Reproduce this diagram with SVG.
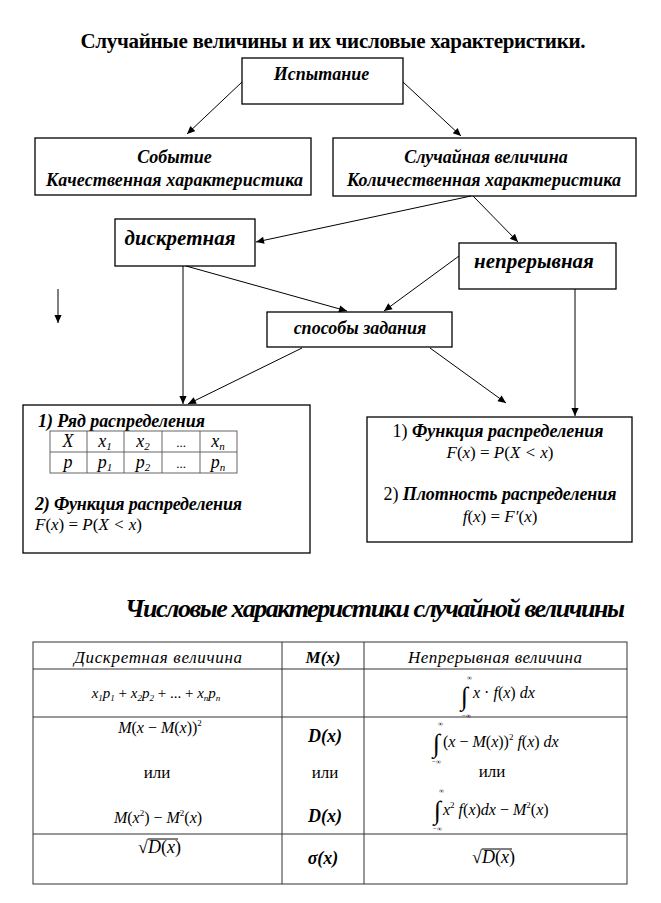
<svg xmlns="http://www.w3.org/2000/svg" width="661" height="903" viewBox="0 0 661 903">
<defs>
<marker id="ah" viewBox="0 0 10 10" refX="10" refY="5" markerWidth="9" markerHeight="8" markerUnits="userSpaceOnUse" orient="auto"><path d="M0,0.5 L10,5 L0,9.5 z" fill="#000"/></marker>
</defs>
<rect width="661" height="903" fill="#fff"/>

<g id="title"><text style="font-family:'Liberation Serif',serif" font-weight="bold" x="333" y="48" font-size="21" text-anchor="middle" textLength="505">Случайные величины и их числовые характеристики.</text></g>

<g id="n-trial" fill="#fff" stroke="#000" stroke-width="1.3"><rect x="242" y="58" width="161" height="46"/><text style="font-family:'Liberation Serif',serif" fill="#000" stroke="none" font-weight="bold" font-style="italic" x="321.5" y="80" font-size="18" text-anchor="middle">Испытание</text></g>

<g id="n-event" fill="#fff" stroke="#000" stroke-width="1.3"><rect x="35" y="138" width="276" height="57"/>
<g fill="#000" stroke="none" font-weight="bold" font-style="italic" font-size="18" text-anchor="middle">
<text style="font-family:'Liberation Serif',serif" x="174.5" y="163">Событие</text>
<text style="font-family:'Liberation Serif',serif" x="174.5" y="186" textLength="257">Качественная характеристика</text></g></g>

<g id="n-rv" fill="#fff" stroke="#000" stroke-width="1.3"><rect x="333" y="138" width="303" height="58"/>
<g fill="#000" stroke="none" font-weight="bold" font-style="italic" font-size="18" text-anchor="middle">
<text style="font-family:'Liberation Serif',serif" x="486" y="163">Случайная величина</text>
<text style="font-family:'Liberation Serif',serif" x="484" y="186" textLength="274">Количественная характеристика</text></g></g>

<g id="n-discrete" fill="#fff" stroke="#000" stroke-width="1.3"><rect x="115" y="219" width="140" height="47"/><text style="font-family:'Liberation Serif',serif" fill="#000" stroke="none" font-weight="bold" font-style="italic" x="180" y="245" font-size="21" text-anchor="middle">дискретная</text></g>

<g id="n-continuous" fill="#fff" stroke="#000" stroke-width="1.3"><rect x="459" y="243" width="157" height="46"/><text style="font-family:'Liberation Serif',serif" fill="#000" stroke="none" font-weight="bold" font-style="italic" x="534" y="268" font-size="21" text-anchor="middle">непрерывная</text></g>

<g id="n-methods" fill="#fff" stroke="#000" stroke-width="1.3"><rect x="267" y="312" width="185" height="35"/><text style="font-family:'Liberation Serif',serif" fill="#000" stroke="none" font-weight="bold" font-style="italic" x="360" y="334" font-size="18" text-anchor="middle">способы задания</text></g>

<g id="n-left">
<rect x="23" y="405" width="287" height="148" fill="#fff" stroke="#000" stroke-width="1.3"/>
<text style="font-family:'Liberation Serif',serif" font-weight="bold" font-style="italic" x="38" y="427" font-size="18" textLength="167">1) Ряд распределения</text>
<g fill="none" stroke="#555" stroke-width="0.9">
<rect x="50" y="431" width="187" height="42"/>
<path d="M50,452H237M87,431V473M124,431V473M162,431V473M200,431V473"/>
</g>
<g font-style="italic" font-size="18" text-anchor="middle">
<text style="font-family:'Liberation Serif',serif" x="68" y="447">X</text>
<text style="font-family:'Liberation Serif',serif" x="105" y="447">x<tspan font-size="11" dy="3">1</tspan></text>
<text style="font-family:'Liberation Serif',serif" x="143" y="447">x<tspan font-size="11" dy="3">2</tspan></text>
<text style="font-family:'Liberation Serif',serif" x="181" y="447" font-style="normal" font-size="13">...</text>
<text style="font-family:'Liberation Serif',serif" x="218" y="447">x<tspan font-size="11" dy="3">n</tspan></text>
<text style="font-family:'Liberation Serif',serif" x="68" y="468">p</text>
<text style="font-family:'Liberation Serif',serif" x="105" y="468">p<tspan font-size="11" dy="3">1</tspan></text>
<text style="font-family:'Liberation Serif',serif" x="143" y="468">p<tspan font-size="11" dy="3">2</tspan></text>
<text style="font-family:'Liberation Serif',serif" x="181" y="468" font-style="normal" font-size="13">...</text>
<text style="font-family:'Liberation Serif',serif" x="218" y="468">p<tspan font-size="11" dy="3">n</tspan></text>
</g>
<text style="font-family:'Liberation Serif',serif" font-weight="bold" font-style="italic" x="35" y="510" font-size="18" textLength="207">2) Функция распределения</text>
<text style="font-family:'Liberation Serif',serif" font-style="italic" x="35" y="530" font-size="17">F<tspan font-style="normal">(</tspan>x<tspan font-style="normal">) = </tspan>P<tspan font-style="normal">(</tspan>X &lt; x<tspan font-style="normal">)</tspan></text>
</g>

<g id="n-right">
<rect x="367" y="417" width="265" height="125" fill="#fff" stroke="#000" stroke-width="1.3"/>
<text style="font-family:'Liberation Serif',serif" font-weight="bold" font-style="italic" x="498" y="437" font-size="18" text-anchor="middle" textLength="211"><tspan font-weight="normal" font-style="normal">1) </tspan>Функция распределения</text>
<text style="font-family:'Liberation Serif',serif" font-style="italic" x="500" y="458" font-size="17" text-anchor="middle">F<tspan font-style="normal">(</tspan>x<tspan font-style="normal">) = </tspan>P<tspan font-style="normal">(</tspan>X &lt; x<tspan font-style="normal">)</tspan></text>
<text style="font-family:'Liberation Serif',serif" font-weight="bold" font-style="italic" x="500" y="500" font-size="18" text-anchor="middle" textLength="233"><tspan font-weight="normal" font-style="normal">2) </tspan>Плотность распределения</text>
<text style="font-family:'Liberation Serif',serif" font-style="italic" x="500" y="522" font-size="17" text-anchor="middle">f<tspan font-style="normal">(</tspan>x<tspan font-style="normal">) = </tspan>F′<tspan font-style="normal">(</tspan>x<tspan font-style="normal">)</tspan></text>
</g>

<g id="connectors" fill="none" stroke="#000" stroke-width="1" marker-end="url(#ah)">
<path d="M242,82L187,134"/>
<path d="M403,82L461,136"/>
<path d="M471,196L256,242"/>
<path d="M473,196L518,242"/>
<path d="M186,266L347,311"/>
<path d="M459,256L384,311"/>
<path d="M183,266V404"/>
<path d="M302,348L188,404"/>
<path d="M430,348L506,403"/>
<path d="M575,289V416"/>
<path d="M58,289V323"/>
</g>

<g id="heading2"><text style="font-family:'Liberation Serif',serif" font-weight="bold" font-style="italic" x="375" y="617" font-size="26" text-anchor="middle" textLength="500">Числовые характеристики случайной величины</text></g>

<g id="table">
<g fill="none" stroke="#333" stroke-width="1">
<rect x="33" y="642" width="594" height="242"/>
<path d="M33,669H627M33,717H627M33,834H627M282,642V884M364,642V884"/>
</g>
<text style="font-family:'Liberation Serif',serif" font-style="italic" x="158" y="663" font-size="17" text-anchor="middle" textLength="168">Дискретная величина</text>
<text style="font-family:'Liberation Serif',serif" font-weight="bold" font-style="italic" x="323" y="663" font-size="17" text-anchor="middle">M(x)</text>
<text style="font-family:'Liberation Serif',serif" font-style="italic" x="495" y="663" font-size="17" text-anchor="middle" textLength="174">Непрерывная величина</text>

<text style="font-family:'Liberation Serif',serif" font-style="italic" x="156" y="698" font-size="15" text-anchor="middle">x<tspan font-size="9" dy="3">1</tspan><tspan dy="-3">p</tspan><tspan font-size="9" dy="3">1</tspan><tspan font-style="normal" dy="-3"> + </tspan>x<tspan font-size="9" dy="3">2</tspan><tspan dy="-3">p</tspan><tspan font-size="9" dy="3">2</tspan><tspan font-style="normal" dy="-3"> + ... + </tspan>x<tspan font-size="9" dy="3">n</tspan><tspan dy="-3">p</tspan><tspan font-size="9" dy="3">n</tspan></text>
<text style="font-family:'Liberation Serif',serif" x="461" y="705" font-size="26">∫</text>
<text style="font-family:'Liberation Serif',serif" x="467" y="680" font-size="7">∞</text>
<text style="font-family:'Liberation Serif',serif" x="462" y="718" font-size="7">−∞</text>
<text style="font-family:'Liberation Serif',serif" font-style="italic" x="473" y="698" font-size="16">x<tspan font-style="normal"> · </tspan>f<tspan font-style="normal">(</tspan>x<tspan font-style="normal">) </tspan>dx</text>

<text style="font-family:'Liberation Serif',serif" font-style="italic" x="160" y="733" font-size="16" text-anchor="middle">M<tspan font-style="normal">(</tspan>x<tspan font-style="normal"> − </tspan>M<tspan font-style="normal">(</tspan>x<tspan font-style="normal">))</tspan><tspan font-style="normal" font-size="9" dy="-7">2</tspan></text>
<text style="font-family:'Liberation Serif',serif" x="157" y="778" font-size="17" text-anchor="middle">или</text>
<text style="font-family:'Liberation Serif',serif" font-style="italic" x="158" y="823" font-size="16" text-anchor="middle">M<tspan font-style="normal">(</tspan>x<tspan font-style="normal" font-size="9" dy="-7">2</tspan><tspan font-style="normal" dy="7">) − </tspan>M<tspan font-style="normal" font-size="9" dy="-7">2</tspan><tspan font-style="normal" dy="7">(</tspan>x<tspan font-style="normal">)</tspan></text>

<text style="font-family:'Liberation Serif',serif" font-weight="bold" font-style="italic" x="325" y="742" font-size="18" text-anchor="middle">D(x)</text>
<text style="font-family:'Liberation Serif',serif" x="325" y="778" font-size="17" text-anchor="middle">или</text>
<text style="font-family:'Liberation Serif',serif" font-weight="bold" font-style="italic" x="325" y="822" font-size="18" text-anchor="middle">D(x)</text>

<text style="font-family:'Liberation Serif',serif" x="433" y="752" font-size="26">∫</text>
<text style="font-family:'Liberation Serif',serif" x="438" y="726" font-size="7">∞</text>
<text style="font-family:'Liberation Serif',serif" x="432" y="764" font-size="7">−∞</text>
<text style="font-family:'Liberation Serif',serif" font-style="italic" x="443" y="747" font-size="16"><tspan font-style="normal">(</tspan>x<tspan font-style="normal"> − </tspan>M<tspan font-style="normal">(</tspan>x<tspan font-style="normal">))</tspan><tspan font-style="normal" font-size="9" dy="-7">2</tspan><tspan dy="7"> f</tspan><tspan font-style="normal">(</tspan>x<tspan font-style="normal">) </tspan>dx</text>
<text style="font-family:'Liberation Serif',serif" x="492" y="777" font-size="17" text-anchor="middle">или</text>
<text style="font-family:'Liberation Serif',serif" x="434" y="819" font-size="26">∫</text>
<text style="font-family:'Liberation Serif',serif" x="439" y="793" font-size="7">∞</text>
<text style="font-family:'Liberation Serif',serif" x="433" y="831" font-size="7">−∞</text>
<text style="font-family:'Liberation Serif',serif" font-style="italic" x="443" y="815" font-size="16">x<tspan font-style="normal" font-size="9" dy="-7">2</tspan><tspan dy="7"> f</tspan><tspan font-style="normal">(</tspan>x<tspan font-style="normal">)</tspan>dx<tspan font-style="normal"> − </tspan>M<tspan font-style="normal" font-size="9" dy="-7">2</tspan><tspan font-style="normal" dy="7">(</tspan>x<tspan font-style="normal">)</tspan></text>

<text style="font-family:'Liberation Serif',serif" x="138" y="853" font-size="18">√<tspan font-style="italic">D</tspan>(<tspan font-style="italic">x</tspan>)</text>
<path d="M148,839H178" stroke="#000" stroke-width="1"/>
<text style="font-family:'Liberation Serif',serif" font-weight="bold" font-style="italic" x="323" y="864" font-size="18" text-anchor="middle">σ(x)</text>
<text style="font-family:'Liberation Serif',serif" x="472" y="863" font-size="18">√<tspan font-style="italic">D</tspan>(<tspan font-style="italic">x</tspan>)</text>
<path d="M482,849H512" stroke="#000" stroke-width="1"/>
</g>
</svg>
